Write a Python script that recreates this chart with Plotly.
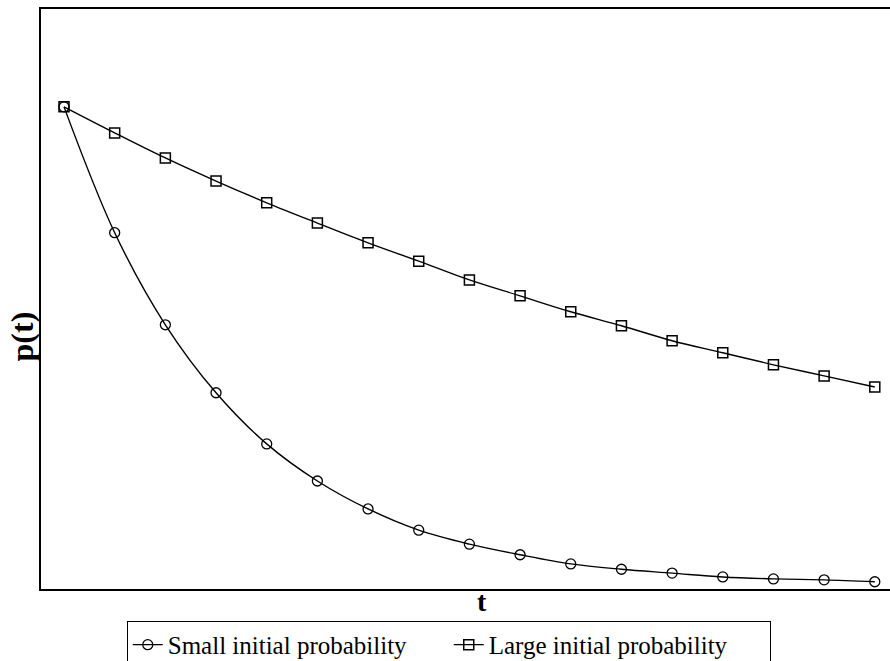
import plotly.graph_objects as go

t = list(range(17))
small_p = [1.0, 0.739, 0.548, 0.407, 0.301, 0.224, 0.166, 0.122, 0.093, 0.071,
           0.052, 0.041, 0.033, 0.025, 0.021, 0.019, 0.015]
large_p = [1.0, 0.946, 0.894, 0.846, 0.801, 0.759, 0.718, 0.680, 0.641, 0.608,
           0.575, 0.546, 0.515, 0.490, 0.465, 0.442, 0.419]
names = ["Small initial probability", "Large initial probability"]
x_title = "t"
y_title = "p(t)"

font_family = "Liberation Serif"

fig = go.Figure()
fig.add_trace(go.Scatter(
    x=t, y=small_p, name=names[0], mode="lines+markers",
    line=dict(color="black", width=1.4, shape="spline"),
    marker=dict(symbol="circle-open", size=10, color="black", line=dict(width=1.3)),
))
fig.add_trace(go.Scatter(
    x=t, y=large_p, name=names[1], mode="lines+markers",
    line=dict(color="black", width=1.4, shape="spline"),
    marker=dict(symbol="square-open", size=10, color="black", line=dict(width=1.5)),
))

fig.update_layout(
    width=890, height=661,
    margin=dict(l=41, r=0, t=9, b=72, autoexpand=False),
    paper_bgcolor="white", plot_bgcolor="white",
    font=dict(family=font_family, color="black"),
    xaxis=dict(range=[-0.454, 16.3], showgrid=False, zeroline=False,
               showticklabels=False, ticks="", showline=True, linecolor="black",
               linewidth=2, mirror=True, automargin=False),
    yaxis=dict(range=[0, 1.203], showgrid=False, zeroline=False,
               showticklabels=False, ticks="", showline=True, linecolor="black",
               linewidth=2, automargin=False),
    legend=dict(orientation="h", x=0.101, xanchor="left", y=-0.055, yanchor="top",
                bordercolor="black", borderwidth=1, font=dict(size=25, family=font_family),
                bgcolor="white", itemwidth=30, entrywidth=276),
    showlegend=True,
    annotations=[
        dict(text="<b>" + x_title + "</b>", xref="paper", yref="paper",
             x=0.519, y=-0.0224, xanchor="center", yanchor="middle", showarrow=False,
             font=dict(size=28, family=font_family)),
        dict(text="<b>" + y_title + "</b>", xref="paper", yref="paper",
             x=-0.022, y=0.436, xanchor="center", yanchor="middle", showarrow=False,
             textangle=-90, font=dict(size=32, family=font_family)),
    ],
)

fig.write_html("out.html")
